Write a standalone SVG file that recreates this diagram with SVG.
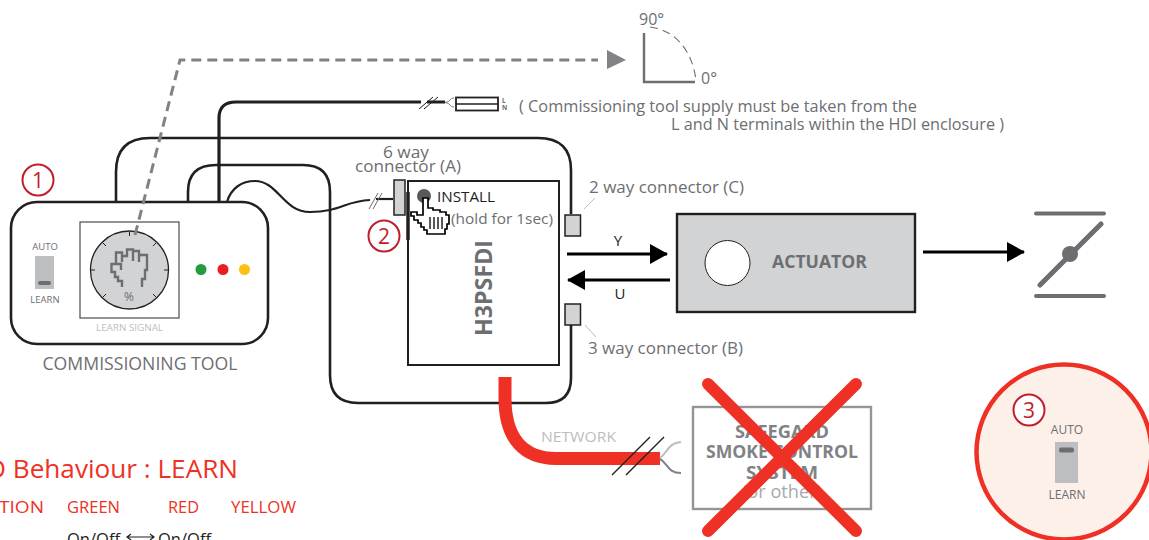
<svg xmlns="http://www.w3.org/2000/svg" width="1149" height="540" viewBox="0 0 1149 540">
<style>
text{font-family:"Open Sans","Noto Sans","Liberation Sans",sans-serif;fill:#6d6e71}
.w{fill:none;stroke:#231f20;stroke-width:2.6}
.c{fill:#fff;stroke:#be1e2d;stroke-width:2}
.n{fill:#be1e2d;font-size:21px;text-anchor:middle}
.s{fill:#bcbec0}
.k{fill:#6d6e71}
.m{text-anchor:middle}
.r{fill:#ee3124}
.d{fill:#231f20}
.b{fill:#808285;font-weight:700;font-size:18px}
</style>
<defs>
<marker id="ah" markerUnits="userSpaceOnUse" markerWidth="18" markerHeight="20" refX="17" refY="10" orient="auto"><path d="M0 0L18 10L0 20Z" fill="#000"/></marker>
</defs>
<g id="connectors">
<path class="w" d="M116 202V172Q116 138 150 138H538Q571 138 571 170V214M571 325V378Q571 403 546 403H358Q330 403 330 375V192Q330 165 303 165H216Q188 165 188 192V202"/>
<path d="M219 202V118Q219 102 236 102H421M427 102H445" fill="none" stroke="#231f20" stroke-width="3.2"/>
<path d="M419 109L433 97M424 109L438 97" fill="none" stroke="#231f20" stroke-width="1"/>
<path d="M445 102.500Q449 102 450 100Q451 98 454 98M445 102.500Q449 103 450 105Q451 107 454 107" fill="none" stroke="#808285" stroke-width="1"/>
<path d="M227 202C231 188 242 181 255 181C278 181 283 212 310 212C340 212 345 201 370 200" fill="none" stroke="#231f20" stroke-width="2.200"/>
<path d="M376 199H393" fill="none" stroke="#231f20" stroke-width="2.200"/>
<path d="M369 209L378 193M373 209L382 193" fill="none" stroke="#6d6e71" stroke-width="1"/>
<path d="M567 254H667" stroke="#000" stroke-width="3" fill="none" marker-end="url(#ah)"/>
<path d="M670 280H568" stroke="#000" stroke-width="3" fill="none" marker-end="url(#ah)"/>
<path d="M923 252H1024" stroke="#000" stroke-width="3" fill="none" marker-end="url(#ah)"/>
<path d="M584 209L595 198M585 325L596 337" fill="none" stroke="#bcbec0" stroke-width="1"/>
<path d="M505 377V398C505 440 525 458.500 556 458.500H660" fill="none" stroke="#ee3124" stroke-width="13"/>
<path d="M612 475L650 437M626 475L664 437" fill="none" stroke="#231f20" stroke-width="1.400"/>
<path d="M660 458C668 452 668 443 681 442" fill="none" stroke="#bcbec0" stroke-width="2"/>
<path d="M660 459C668 463 667 473 681 473" fill="none" stroke="#808285" stroke-width="2"/>
</g>
<g id="fuse">
<rect x="456" y="97.500" width="42" height="13" fill="#fff" stroke="#231f20" stroke-width="1.800"/>
<path d="M456 104H498" stroke="#231f20" stroke-width="1.400"/>
<text x="502" y="103" font-size="6.500" font-weight="700">L</text><text x="502" y="110" font-size="6.500" font-weight="700">N</text>
</g>
<text id="note1" x="519" y="112" font-size="16" textLength="398" lengthAdjust="spacingAndGlyphs">( Commissioning tool supply must be taken from the</text>
<text id="note2" x="671" y="130" font-size="16" textLength="333" lengthAdjust="spacingAndGlyphs">L and N terminals within the HDI enclosure )</text>
<g id="angle">
<path d="M644 33V82H695" fill="none" stroke="#6d6e71" stroke-width="2.400"/>
<path d="M650 27C675 30 692 50 696 80" fill="none" stroke="#6d6e71" stroke-dasharray="8 5" stroke-width="1.100"/>
<text x="639" y="25" font-size="16">90°</text>
<text x="701" y="84" font-size="16">0°</text>
</g>
<g id="commissioning-tool">
<rect x="11" y="202" width="257" height="142" rx="26" fill="#fff" stroke="#231f20" stroke-width="2.600"/>
<text class="m" x="45" y="250" font-size="9.500">AUTO</text>
<rect x="35" y="256" width="19" height="33" class="s"/>
<rect x="38" y="281" width="13" height="4" rx="2" class="k"/>
<text class="m" x="45" y="303" font-size="9.500">LEARN</text>
<rect x="80" y="222" width="99" height="96" fill="#fff" stroke="#58595b" stroke-width="1.300"/>
<circle cx="129.500" cy="270" r="39" fill="#d1d3d4" stroke="#231f20" stroke-width="1.300"/>
<path d="M129.500 232V236M168 270H164M91 270H95M156 243L153 246M103 243L106 246M156 297L153 294M103 297L106 294" stroke="#231f20" stroke-width="1"/>
<path d="M122 287V281H118V277H115V272H111.500V264H121V270M116 264V252.500H122V262M122 256H127V249.500H133V261M133 251H139V262M139 255H147V270H145V279H142V287" fill="none" stroke="#6d6e71" stroke-width="2.400"/>
<text class="m" x="129" y="301" font-size="12">%</text>
<text class="m s" x="129.500" y="331" font-size="9" textLength="67" lengthAdjust="spacingAndGlyphs">LEARN SIGNAL</text>
<circle cx="201" cy="269.500" r="5.500" fill="#259b3d"/>
<circle cx="223" cy="269.500" r="5.500" fill="#ed1c24"/>
<circle cx="244.500" cy="269.500" r="5.500" fill="#fdc010"/>
</g>
<g id="signal-link">
<path d="M135 235L180 60H598" fill="none" stroke="#808285" stroke-width="3" stroke-dasharray="10 6"/>
<path d="M607 50L626 60L607 69Z" fill="#808285"/>
</g>
<text id="tool-label" class="m" x="140" y="370" font-size="18" textLength="195" lengthAdjust="spacingAndGlyphs">COMMISSIONING TOOL</text>
<g id="badge1"><circle class="c" cx="38" cy="180" r="15.500"/><text class="n" x="38" y="188">1</text></g>
<g id="badge2"><circle class="c" cx="384" cy="236" r="15.500"/><text class="n" x="384" y="244">2</text></g>
<g id="connector-a">
<rect x="394" y="180" width="11" height="35" fill="#d1d3d4" stroke="#231f20" stroke-width="1.500"/>
<text class="m" x="406" y="158" font-size="16.500" textLength="46" lengthAdjust="spacingAndGlyphs">6 way</text>
<text class="m" x="408" y="172" font-size="16.500" textLength="106" lengthAdjust="spacingAndGlyphs">connector (A)</text>
</g>
<g id="h3psfdi">
<rect x="408" y="181" width="151" height="184" fill="#fff" stroke="#231f20" stroke-width="2"/>
<path d="M408 192V240" stroke="#231f20" stroke-width="3.500"/>
<circle cx="424" cy="196" r="7" fill="#58595b"/>
<text class="d" x="437" y="202" font-size="15" textLength="58" lengthAdjust="spacingAndGlyphs">INSTALL</text>
<text x="451" y="224" font-size="15" textLength="102" lengthAdjust="spacingAndGlyphs">(hold for 1sec)</text>
<text class="m" transform="translate(492 288) rotate(-90)" font-size="23" font-weight="700" textLength="96" lengthAdjust="spacingAndGlyphs">H3PSFDI</text>
<path d="M423 198H428V208H433V210H440V212H446V215H449V224H447V229H445V234H427V230H424V227H421V223H418V220H414V216H411V212H417V215H423Z" fill="#fff" stroke="#000" stroke-width="1.700"/>
<path d="M430 217V229M434 217V229M438 217V229M442 217V229" stroke="#58595b" stroke-width="2"/>
</g>
<g id="connector-c"><rect x="565" y="215" width="15.500" height="21" fill="#d1d3d4" stroke="#231f20" stroke-width="1.500"/><text x="589" y="193" font-size="16" textLength="155" lengthAdjust="spacingAndGlyphs">2 way connector (C)</text></g>
<g id="connector-b"><rect x="565" y="304" width="15.500" height="21" fill="#d1d3d4" stroke="#231f20" stroke-width="1.500"/><text x="588" y="354" font-size="16" textLength="155" lengthAdjust="spacingAndGlyphs">3 way connector (B)</text></g>
<text class="d m" x="618" y="246" font-size="15">Y</text>
<text class="d m" x="620" y="299" font-size="15">U</text>
<g id="actuator">
<rect x="677" y="214" width="238" height="98" fill="#d1d3d4" stroke="#231f20" stroke-width="2.400"/>
<circle cx="727.500" cy="263" r="22.500" fill="#fff" stroke="#231f20" stroke-width="1"/>
<text x="772" y="268" font-size="18" font-weight="700" textLength="95" lengthAdjust="spacingAndGlyphs">ACTUATOR</text>
</g>
<g id="damper" stroke="#6d6e71" stroke-linecap="round" fill="none">
<path d="M1036 213.500H1104M1036 296H1104" stroke-width="4"/>
<path d="M1040 285L1101 224" stroke-width="5"/>
<circle cx="1070" cy="254" r="8" fill="#6d6e71" stroke="none"/>
</g>
<text id="network" class="s" x="541" y="442" font-size="15" textLength="75" lengthAdjust="spacingAndGlyphs">NETWORK</text>
<g id="safegard">
<rect x="693" y="407" width="178" height="102" fill="#fff" stroke="#939598" stroke-width="2.400"/>
<text class="m b" x="782" y="438" textLength="94" lengthAdjust="spacingAndGlyphs">SAFEGARD</text>
<text class="m b" x="782" y="458" textLength="152" lengthAdjust="spacingAndGlyphs">SMOKE CONTROL</text>
<text class="m b" x="782" y="479" textLength="72" lengthAdjust="spacingAndGlyphs">SYSTEM</text>
<text class="m" x="782" y="498" font-size="19" style="fill:#a7a9ac" textLength="80" lengthAdjust="spacingAndGlyphs">(or other)</text>
<path d="M708 384L856 531M856 384L708 531" stroke="#ee3124" stroke-width="12" stroke-linecap="round"/>
</g>
<g id="legend">
<text class="r" x="-13" y="478" font-size="26" textLength="251" lengthAdjust="spacingAndGlyphs">D Behaviour : LEARN</text>
<text class="r" x="-25" y="513" font-size="17" textLength="69" lengthAdjust="spacingAndGlyphs">ACTION</text>
<text class="r" x="67" y="513" font-size="17" textLength="53" lengthAdjust="spacingAndGlyphs">GREEN</text>
<text class="r" x="168" y="513" font-size="17" textLength="31" lengthAdjust="spacingAndGlyphs">RED</text>
<text class="r" x="231" y="513" font-size="17" textLength="65" lengthAdjust="spacingAndGlyphs">YELLOW</text>
<text class="d" x="67" y="545" font-size="17" textLength="53" lengthAdjust="spacingAndGlyphs">On/Off</text>
<text class="d" x="158" y="545" font-size="17" textLength="53" lengthAdjust="spacingAndGlyphs">On/Off</text>
<path d="M127 537H154M131 534L127 537L131 540M150 534L154 537L150 540" fill="none" stroke="#231f20" stroke-width="1.200"/>
</g>
<g id="inset">
<circle cx="1064" cy="452" r="87.500" fill="#fdf0e9" stroke="#ee3124" stroke-width="4.500"/>
<circle class="c" cx="1029" cy="410" r="15.500"/><text class="n" x="1029" y="418">3</text>
<text class="m" x="1067" y="434" font-size="12">AUTO</text>
<rect x="1055" y="442" width="23" height="41" class="s"/>
<rect x="1059" y="447.500" width="15" height="5" rx="2" class="k"/>
<text class="m" x="1067" y="499" font-size="12">LEARN</text>
</g>
</svg>
